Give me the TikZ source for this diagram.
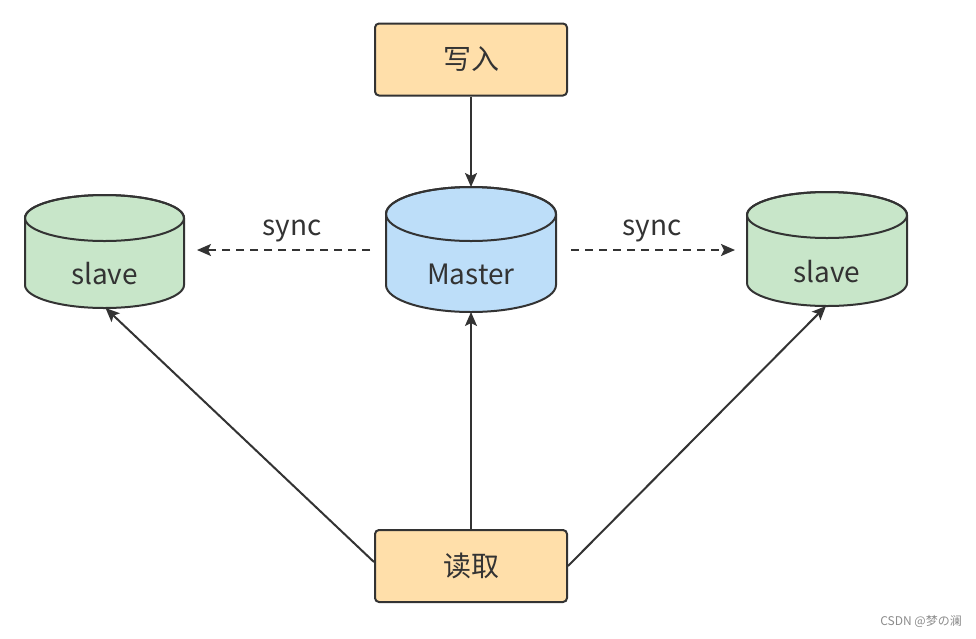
\documentclass[tikz,border=0pt]{standalone}
\usepackage{fontspec}
\setmainfont{Noto Sans CJK SC}
\usetikzlibrary{arrows.meta}
\definecolor{edge}{HTML}{333333}
\definecolor{boxfill}{HTML}{FFDFAA}
\definecolor{masterfill}{HTML}{BDDEF9}
\definecolor{slavefill}{HTML}{C8E6C9}
\newcommand\dbcyl[8]{%
  % #1 name, #2 cx, #3 top y, #4 bottom y, #5 rx, #6 ry, #7 fill, #8 text y
  \path[cylbody,fill=#7] ({#2-#5},{#3-#6}) -- ({#2-#5},{#4+#6})
    arc[start angle=180,end angle=360,x radius=#5,y radius=#6]
    -- ({#2+#5},{#3-#6})
    arc[start angle=0,end angle=180,x radius=#5,y radius=#6] -- cycle;
  \draw[cylbody] (#2,{#3-#6}) ellipse[x radius=#5,y radius=#6];
  \node[cylarea,minimum width={2*#5*1pt},minimum height={(#3-#4)*1pt}] (#1) at (#2,{(#3+#4)/2}) {};
}
\tikzset{
  x=1pt,y=1pt,
  cylbody/.style={draw=edge,line width=2pt},
  cylarea/.style={inner sep=0pt,outer sep=0pt},
  opbox/.style={draw=edge,line width=2pt,fill=boxfill,rounded corners=4pt,
    minimum width=192pt,minimum height=72pt,inner sep=0pt,font=\fontsize{28}{32}\selectfont,text=edge},
  lbl/.style={font=\fontsize{28}{32}\selectfont,text=edge,inner sep=0pt},
  conn/.style={draw=edge,line width=2pt,-{Stealth[length=14pt,width=12pt,inset=3pt]}},
  syncline/.style={conn,dash pattern=on 8pt off 6pt},
}
\begin{document}
\begin{tikzpicture}
\useasboundingbox (0,0) rectangle (976,-638);
\fill[white] (0,0) rectangle (976,-638);
\node[opbox] (write) at (471,-59.5) {写入};
\node[opbox] (read) at (471,-566) {读取};
\dbcyl{master}{471}{-187}{-312}{85}{27}{masterfill}{}
\dbcyl{lslave}{104.5}{-195}{-308}{79.5}{23}{slavefill}{}
\dbcyl{rslave}{827}{-192}{-306}{80}{23}{slavefill}{}
\node[lbl] (mastertxt) at (471,-274) {Master};
\node[lbl] (lslavetxt) at (104.5,-274) {slave};
\node[lbl] (rslavetxt) at (827,-272) {slave};
\coordinate (msyncL) at (370,-250);
\coordinate (msyncR) at (571,-250);
\coordinate (lsyncend) at (197,-250);
\coordinate (rsyncend) at (735,-250);
\draw[conn] (write.south) -- (master.north);
\draw[conn] (read.north) -- (master.south);
\draw[syncline] (msyncL) -- (lsyncend);
\draw[syncline] (msyncR) -- (rsyncend);
\node[lbl] (lsync) at (292,-231) {sync};
\node[lbl] (rsync) at (652,-231) {sync};
\draw[conn] ([yshift=4pt]read.west) -- ([xshift=1pt]lslave.south);
\draw[conn] (read.east) -- ([xshift=-1pt]rslave.south);
\node[font=\fontsize{12}{14}\selectfont,text=black!45,anchor=east,inner sep=0pt] (wm) at (962,-621) {CSDN @梦の澜};
\end{tikzpicture}
\end{document}
